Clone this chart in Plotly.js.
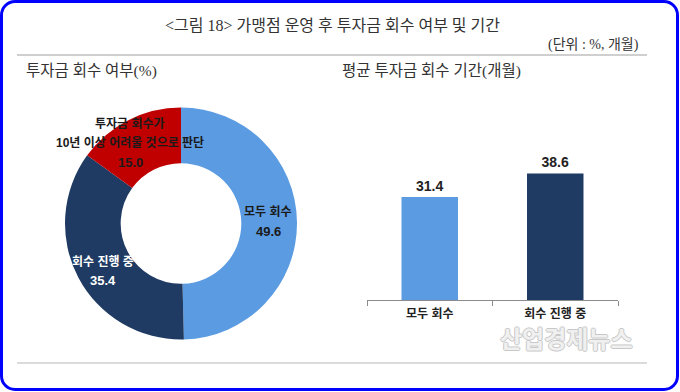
<!DOCTYPE html>
<html>
<head>
<meta charset="utf-8">
<script src="https://cdn.plot.ly/plotly-3.0.1.min.js"></script>
<style>
html,body{margin:0;padding:0;background:#fff;}
#wrap{position:relative;width:680px;height:392px;}
#chart{width:680px;height:392px;}
#frame{position:absolute;left:0;top:0;width:679px;height:391px;box-sizing:border-box;border:3px solid #0000ff;border-radius:15px;pointer-events:none;}
</style>
</head>
<body>
<div id="wrap"><div id="chart"></div><div id="frame"></div></div>
<script>
// Donut: 투자금 회수 여부(%)
const pieLabels = ['모두 회수', '회수 진행 중', '투자금 회수가<br>10년 이상 어려울 것으로 판단'];
const pieValues = [49.6, 35.4, 15.0];
const pieColors = ['#5b9be1', '#1f3b63', '#c00000'];
const pieTextColors = ['#1a1a1a', '#ffffff', '#1a1a1a'];
// Bars: 평균 투자금 회수 기간(개월)
const barCats = ['모두 회수', '회수 진행 중'];
const barValues = [31.4, 38.6];
const barColors = ['#5b9be1', '#1f3b63'];

const W = 680, H = 392;
const px = x => x / W;
const py = y => 1 - y / H;
const sans = 'Liberation Sans, Noto Sans CJK KR, sans-serif';
const serif = 'Liberation Serif, Noto Sans CJK KR, serif';

const pie = {
  type: 'pie', values: pieValues, labels: pieLabels, sort: false,
  direction: 'clockwise', rotation: 0, hole: 0.52,
  marker: {colors: pieColors, line: {width: 0}},
  textinfo: 'none', hoverinfo: 'label+value', showlegend: false,
  domain: {x: [px(65), px(297)], y: [py(340), py(107)]}
};
const bars = {
  type: 'bar', x: barCats, y: barValues, xaxis: 'x', yaxis: 'y',
  marker: {color: barColors, line: {width: 0}},
  width: 0.45,
  text: barValues.map(v => v.toFixed(1)), textposition: 'outside', cliponaxis: false,
  textfont: {family: sans, size: 14, color: '#222', weight: 700},
  showlegend: false, hoverinfo: 'x+y'
};

// pie label positions (px) per slice line block
const labelPos = [[268, 222], [103, 271], [130, 143]];
const annotations = [];
pieLabels.forEach((lab, i) => {
  const lines = lab.split('<br>').concat([pieValues[i].toFixed(1)]);
  const n = lines.length, gap = 19.5;
  lines.forEach((ln, j) => {
    const y = labelPos[i][1] + (j - (n - 1) / 2) * gap;
    annotations.push({
      xref: 'paper', yref: 'paper', x: px(labelPos[i][0]), y: py(y),
      xanchor: 'center', yanchor: 'middle', showarrow: false, text: ln,
      font: {family: sans, size: j === n - 1 ? 13 : 12, color: pieTextColors[i], weight: 700}
    });
  });
});
annotations.push(
  {xref:'paper', yref:'paper', x: px(332), y: py(25), xanchor:'center', yanchor:'middle', showarrow:false,
   text:'&lt;그림 18&gt; 가맹점 운영 후 투자금 회수 여부 및 기간', font:{family: serif, size: 16, color:'#333'}},
  {xref:'paper', yref:'paper', x: px(641), y: py(45), xanchor:'right', yanchor:'middle', showarrow:false,
   text:'(단위 : %, 개월)', font:{family: serif, size: 14, color:'#333'}},
  {xref:'paper', yref:'paper', x: px(24), y: py(71), xanchor:'left', yanchor:'middle', showarrow:false,
   text:'투자금 회수 여부(%)', font:{family: serif, size: 15.5, color:'#333'}},
  {xref:'paper', yref:'paper', x: px(340), y: py(71), xanchor:'left', yanchor:'middle', showarrow:false,
   text:'평균 투자금 회수 기간(개월)', font:{family: serif, size: 15.5, color:'#333'}},
  {xref:'paper', yref:'paper', x: px(566), y: py(337), xanchor:'center', yanchor:'middle', showarrow:false,
   text:'산업경제뉴스', font:{family: 'Noto Sans CJK KR, sans-serif', size: 24, color:'#f0f0f0', weight: 700,
   shadow:'1px 0 0 #c8c8c8, -1px 0 0 #c8c8c8, 0 1px 0 #c8c8c8, 0 -1px 0 #c8c8c8'}}
);

const layout = {
  width: W, height: H, margin: {l:0, r:0, t:0, b:0},
  paper_bgcolor: '#fff', plot_bgcolor: 'rgba(0,0,0,0)',
  xaxis: {domain: [px(367), px(618)], range: [-0.5, 1.5], showline: true, linecolor: '#8c8c8c', linewidth: 1,
    ticks: 'outside', tickson: 'boundaries', ticklen: 5, tickcolor: '#8c8c8c', showgrid: false, zeroline: false,
    ticklabelstandoff: 3,
    tickfont: {family: sans, size: 12, color: '#222', weight: 700}, fixedrange: true},
  yaxis: {domain: [py(300), py(136)], range: [0, 50], visible: false, fixedrange: true},
  annotations: annotations,
  shapes: [
    {type:'line', xref:'paper', yref:'paper', x0: px(17), x1: px(647), y0: py(55), y1: py(55), line:{color:'#cfcfcf', width:2}},
    {type:'line', xref:'paper', yref:'paper', x0: px(17), x1: px(647), y0: py(363), y1: py(363), line:{color:'#cfcfcf', width:1.5}}
  ]
};
Plotly.newPlot('chart', [pie, bars], layout, {displayModeBar: false, staticPlot: true});
</script>
</body>
</html>
